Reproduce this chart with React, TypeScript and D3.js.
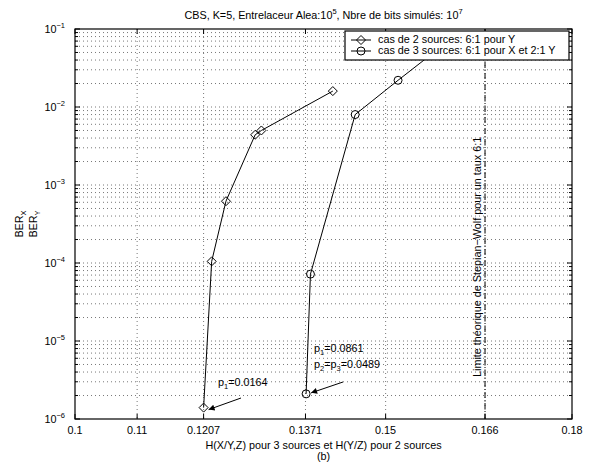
import * as d3 from "d3";

// H values (x) and BER (y)
const h2 = [0.1207, 0.1220, 0.1243, 0.1290, 0.1300, 0.1415];
const ber2 = [1.4e-6, 1.05e-4, 6.2e-4, 4.4e-3, 5.0e-3, 1.6e-2];
const h3 = [0.1372, 0.1379, 0.1451, 0.1520, 0.1600];
const ber3 = [2.1e-6, 7.2e-5, 8.0e-3, 2.2e-2, 6.9e-2];
const xTicks = [0.1, 0.11, 0.1207, 0.1371, 0.15, 0.166, 0.18];
const xTickLabels = ["0.1", "0.11", "0.1207", "0.1371", "0.15", "0.166", "0.18"];
const yDecades = [-6, -5, -4, -3, -2, -1];
const legendLabels = ["cas de 2 sources: 6:1 pour Y", "cas de 3 sources: 6:1 pour X et 2:1 Y"];
const swLimit = 0.166;

const W = 593, H = 463;
const left = 75, right = 572, top = 29, bottom = 419;
const font = "'Liberation Sans', Arial, Helvetica, sans-serif";
const fs = 10.8;

function Diamond({ cx, cy }: { cx: number; cy: number }) {
  const r = 4.5;
  return <path d={`M${cx},${cy - r}L${cx + r},${cy}L${cx},${cy + r}L${cx - r},${cy}Z`} fill="none" stroke="#000" />;
}

export default function App() {
  const x = d3.scaleLinear([0.1, 0.18], [left, right]);
  const y = d3.scaleLog([1e-6, 1e-1], [bottom, top]);
  const line = d3.line<[number, number]>((d) => x(d[0]), (d) => y(d[1]));
  const s2 = h2.map((h, i) => [h, ber2[i]] as [number, number]);
  const s3 = h3.map((h, i) => [h, ber3[i]] as [number, number]);

  const minor: number[] = [];
  yDecades.slice(0, -1).forEach((e) => {
    for (let k = 2; k <= 9; k++) minor.push(k * Math.pow(10, e));
  });

  const dot = { stroke: "#555", strokeWidth: 0.8, strokeDasharray: "1 3" };

  return (
    <svg width={W} height={H} style={{ position: "absolute", left: 0, top: 0, background: "#fff" }} fontFamily={font}>
      <defs>
        <clipPath id="plot">
          <rect x={left} y={top} width={right - left} height={bottom - top} />
        </clipPath>
        <marker id="arrow" viewBox="0 0 10 10" refX="10" refY="5" markerWidth="10" markerHeight="6" orient="auto" markerUnits="userSpaceOnUse">
          <path d="M0,0L10,5L0,10Z" fill="#000" />
        </marker>
      </defs>
      <rect x={0} y={0} width={W} height={H} fill="#fff" />

      {/* grid */}
      <g>
        {xTicks.slice(1, -1).map((t) => (
          <line key={t} x1={x(t)} x2={x(t)} y1={top} y2={bottom} {...dot} />
        ))}
        {yDecades.slice(1, -1).map((e) => (
          <line key={e} x1={left} x2={right} y1={y(Math.pow(10, e))} y2={y(Math.pow(10, e))} {...dot} />
        ))}
        {minor.map((v) => (
          <line key={v} x1={left} x2={right} y1={y(v)} y2={y(v)} {...dot} />
        ))}
      </g>

      {/* ticks */}
      <g stroke="#000" strokeWidth={1}>
        {xTicks.map((t) => (
          <g key={t}>
            <line x1={x(t)} x2={x(t)} y1={bottom} y2={bottom - 5} />
            <line x1={x(t)} x2={x(t)} y1={top} y2={top + 5} />
          </g>
        ))}
        {yDecades.map((e) => (
          <g key={e}>
            <line x1={left} x2={left + 5} y1={y(Math.pow(10, e))} y2={y(Math.pow(10, e))} />
            <line x1={right} x2={right - 5} y1={y(Math.pow(10, e))} y2={y(Math.pow(10, e))} />
          </g>
        ))}
        {minor.map((v) => (
          <g key={v}>
            <line x1={left} x2={left + 3} y1={y(v)} y2={y(v)} />
            <line x1={right} x2={right - 3} y1={y(v)} y2={y(v)} />
          </g>
        ))}
      </g>

      {/* Stepian-Wolf limit */}
      <line x1={x(swLimit)} x2={x(swLimit)} y1={top} y2={bottom} stroke="#000" strokeWidth={1} strokeDasharray="6 2 1 2" />
      <text transform={`translate(${x(swLimit) - 4},${bottom - 42}) rotate(-90)`} fontSize={fs}>
        Limite théorique de Stepian−Wolf pour un taux 6:1
      </text>

      {/* series */}
      <g clipPath="url(#plot)">
        <path d={line(s2) || ""} fill="none" stroke="#000" />
        {s2.map((d, i) => (
          <Diamond key={i} cx={x(d[0])} cy={y(d[1])} />
        ))}
        <path d={line(s3) || ""} fill="none" stroke="#000" />
        {s3.map((d, i) => (
          <circle key={i} cx={x(d[0])} cy={y(d[1])} r={4} fill="none" stroke="#000" />
        ))}
      </g>

      {/* annotations */}
      <line x1={241} y1={398} x2={x(h2[0]) + 5} y2={y(ber2[0]) + 2} stroke="#000" markerEnd="url(#arrow)" />
      <text x={218} y={386} fontSize={fs}>
        p<tspan fontSize={7.5} dy={3}>1</tspan>
        <tspan dy={-3}>=0.0164</tspan>
      </text>
      <line x1={343} y1={382} x2={x(h3[0]) + 5} y2={y(ber3[0]) - 1} stroke="#000" markerEnd="url(#arrow)" />
      <text x={314} y={352} fontSize={fs}>
        p<tspan fontSize={7.5} dy={3}>1</tspan>
        <tspan dy={-3}>=0.0861</tspan>
      </text>
      <text x={314} y={368} fontSize={fs}>
        p<tspan fontSize={7.5} dy={3}>2</tspan>
        <tspan dy={-3}>=p</tspan>
        <tspan fontSize={7.5} dy={3}>3</tspan>
        <tspan dy={-3}>=0.0489</tspan>
      </text>

      {/* frame */}
      <rect x={left} y={top} width={right - left} height={bottom - top} fill="none" stroke="#000" strokeWidth={1.2} />

      {/* legend */}
      <g>
        <rect x={345} y={31} width={224} height={29} fill="#fff" stroke="#000" strokeWidth={1.2} />
        {legendLabels.map((lab, i) => {
          const ly = 40 + i * 11;
          return (
            <g key={lab}>
              <line x1={351} x2={371} y1={ly} y2={ly} stroke="#000" />
              {i === 0 ? <Diamond cx={361} cy={ly} /> : <circle cx={361} cy={ly} r={4} fill="none" stroke="#000" />}
              <text x={378} y={ly} fontSize={fs} dominantBaseline="middle">{lab}</text>
            </g>
          );
        })}
      </g>

      {/* axis labels */}
      <g fontSize={fs} textAnchor="middle">
        {xTicks.map((t, i) => (
          <text key={t} x={x(t)} y={434}>{xTickLabels[i]}</text>
        ))}
      </g>
      <g fontSize={fs} textAnchor="end">
        {yDecades.map((e) => (
          <text key={e} x={left - 10} y={y(Math.pow(10, e)) + 4}>
            10<tspan fontSize={7.5} dy={-5}>{String(e).replace("-", "−")}</tspan>
          </text>
        ))}
      </g>
      <text x={(left + right) / 2} y={449} fontSize={fs} textAnchor="middle">H(X/Y,Z) pour 3 sources et H(Y/Z) pour 2 sources</text>
      <text x={(left + right) / 2} y={460} fontSize={fs} textAnchor="middle">(b)</text>
      <g fontSize={fs} textAnchor="middle">
        <text transform={`translate(23,${(top + bottom) / 2}) rotate(-90)`}>
          BER<tspan fontSize={7.5} dy={3}>X</tspan>
        </text>
        <text transform={`translate(37,${(top + bottom) / 2}) rotate(-90)`}>
          BER<tspan fontSize={7.5} dy={3}>Y</tspan>
        </text>
      </g>
      <text x={(left + right) / 2} y={19} fontSize={fs} textAnchor="middle">
        CBS, K=5, Entrelaceur Alea:10<tspan fontSize={7.5} dy={-5}>5</tspan>
        <tspan dy={5}>, Nbre de bits simulés: 10</tspan>
        <tspan fontSize={7.5} dy={-5}>7</tspan>
      </text>
    </svg>
  );
}
